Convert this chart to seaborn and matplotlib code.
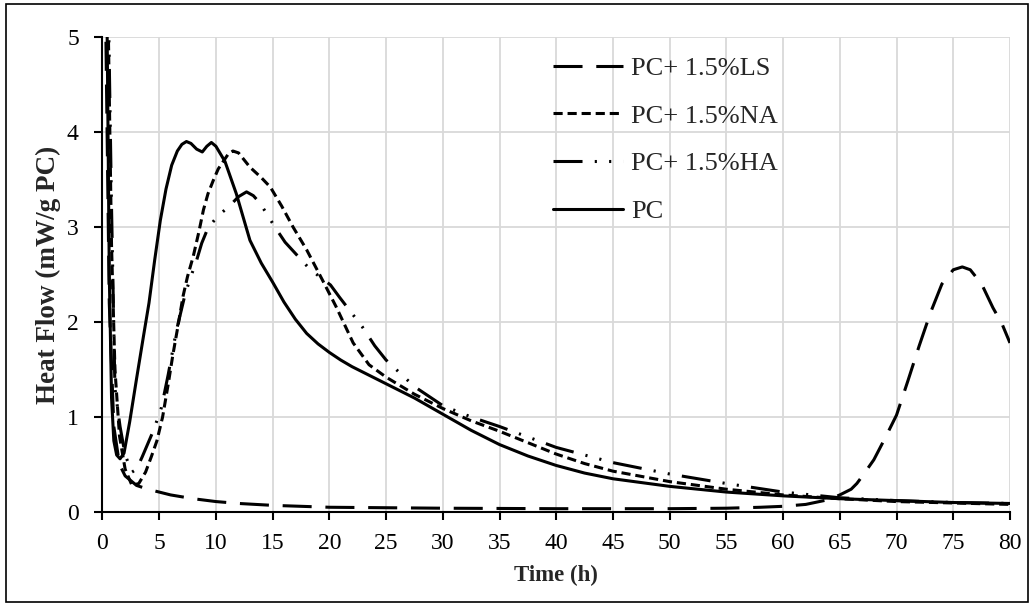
import numpy as np
import pandas as pd
import seaborn as sns
import matplotlib
matplotlib.use("Agg")
import matplotlib.pyplot as plt
from matplotlib.patches import Rectangle

# ---------------- data ----------------
series_names = ["PC+ 1.5%LS", "PC+ 1.5%NA", "PC+ 1.5%HA", "PC"]

t_ls = [0.1, 0.3, 0.6, 1.0, 1.5, 2.0, 3.0, 4.0, 5.0, 6.0, 8.0, 10, 12, 15, 20, 25, 30, 40, 50,
        55, 58, 60, 62, 64, 65, 66, 66.5, 67, 68, 69, 70, 71, 72, 73, 74, 75, 75.8, 76.5, 77.5,
        78.5, 79.3, 80]
v_ls = [8.0, 5.0, 2.2, 0.9, 0.5, 0.38, 0.28, 0.24, 0.21, 0.18, 0.14, 0.11, 0.09, 0.07, 0.05,
        0.045, 0.04, 0.035, 0.035, 0.04, 0.05, 0.06, 0.08, 0.13, 0.18, 0.24, 0.30, 0.38, 0.55,
        0.78, 1.02, 1.38, 1.75, 2.1, 2.4, 2.55, 2.58, 2.55, 2.4, 2.15, 1.98, 1.78]

t_na = [0.1, 0.5, 0.8, 1.1, 1.5, 2.0, 2.6, 3.2, 3.8, 4.3, 4.8, 5.3, 5.8, 6.2, 6.6, 7.1, 7.5, 8.0,
        8.5, 8.9, 9.3, 9.8, 10.2, 10.7, 11.1, 11.5, 12.0, 13.0, 14.0, 14.8, 15.8, 16.8, 18.0, 19.4,
        20.6, 22.1, 23.5, 25, 27.5, 30, 32.5, 35, 37.5, 40, 42.5, 45, 50, 55, 60, 65, 70, 75, 80]
v_na = [8.0, 5.2, 2.8, 1.5, 0.8, 0.45, 0.28, 0.3, 0.42, 0.58, 0.75, 1.0, 1.35, 1.65, 1.92, 2.27,
        2.48, 2.69, 2.95, 3.18, 3.35, 3.5, 3.61, 3.7, 3.77, 3.8, 3.78, 3.63, 3.52, 3.42, 3.22, 3.0,
        2.76, 2.44, 2.16, 1.78, 1.55, 1.42, 1.24, 1.09, 0.96, 0.85, 0.73, 0.61, 0.51, 0.43, 0.32,
        0.24, 0.18, 0.14, 0.11, 0.095, 0.08]

t_ha = [0.1, 0.5, 0.8, 1.1, 1.55, 2.0, 2.6, 3.0, 3.5, 4.5, 5.2, 5.8, 6.5, 7.3, 7.8, 8.3, 8.75,
        9.3, 10.2, 11.1, 12.0, 12.7, 13.3, 13.9, 15.2, 16.1, 17.1, 18.1, 19.1, 20.1, 20.9, 22.9,
        24, 25, 27.5, 30, 32.5, 35, 37.5, 40, 42.5, 45, 50, 55, 60, 65, 70, 75, 80]
v_ha = [8.0, 5.5, 3.2, 1.3, 0.9, 0.6, 0.42, 0.45, 0.58, 0.86, 1.1, 1.45, 1.9, 2.3, 2.48, 2.65,
        2.83, 2.99, 3.12, 3.21, 3.32, 3.37, 3.33, 3.25, 3.0, 2.84, 2.71, 2.58, 2.48, 2.39, 2.26,
        1.95, 1.75, 1.6, 1.32, 1.12, 1.0, 0.9, 0.79, 0.68, 0.6, 0.52, 0.4, 0.3, 0.21, 0.15, 0.12,
        0.1, 0.09]

t_pc = [0.1, 0.4, 0.6, 0.8, 1.0, 1.25, 1.55, 1.9, 2.4, 3.0, 3.6, 4.1, 4.6, 5.1, 5.6, 6.1, 6.6,
        7.0, 7.4, 7.8, 8.3, 8.8, 9.2, 9.6, 10.0, 10.8, 11.8, 13.0, 14.0, 15.0, 16.0, 17.0, 18.0,
        19.0, 20.0, 21.0, 22.0, 23.0, 25.0, 27.5, 30.0, 32.5, 35.0, 37.5, 40.0, 42.5, 45.0, 50.0,
        55.0, 60.0, 65.0, 70.0, 75.0, 80.0]
v_pc = [8.0, 5.2, 2.5, 1.2, 0.75, 0.6, 0.56, 0.62, 0.95, 1.4, 1.84, 2.2, 2.65, 3.07, 3.4, 3.65,
        3.8, 3.87, 3.9, 3.88, 3.82, 3.79, 3.85, 3.89, 3.85, 3.69, 3.35, 2.86, 2.62, 2.42, 2.21,
        2.03, 1.88, 1.77, 1.68, 1.6, 1.53, 1.47, 1.35, 1.2, 1.03, 0.86, 0.71, 0.59, 0.49, 0.41,
        0.35, 0.27, 0.21, 0.17, 0.14, 0.12, 0.1, 0.09]

x_ticks = list(range(0, 81, 5))
y_ticks = [0, 1, 2, 3, 4, 5]

frames = []
for name, t, v in zip(series_names, [t_ls, t_na, t_ha, t_pc], [v_ls, v_na, v_ha, v_pc]):
    frames.append(pd.DataFrame({"Time": t, "Heat": v, "Series": name}))
df = pd.concat(frames, ignore_index=True)

# ---------------- style ----------------
sns.set_theme(style="white")
plt.rcParams["font.family"] = ["Liberation Serif", "DejaVu Serif"]

fig = plt.figure(figsize=(10.33, 6.04), dpi=100)
ax = fig.add_axes([0.0992, 0.1523, 0.8785, 0.7864])

dash_map = {
    "PC+ 1.5%LS": (9.5, 4.5),
    "PC+ 1.5%NA": (3.0, 1.6),
    "PC+ 1.5%HA": (9.5, 4.0, 0.7, 4.0, 0.7, 4.0),
    "PC": "",
}
palette = {n: "black" for n in series_names}

sns.lineplot(data=df, x="Time", y="Heat", hue="Series", style="Series",
             hue_order=series_names, style_order=series_names,
             palette=palette, dashes=dash_map, sort=False, estimator=None,
             linewidth=2.2, legend=False, ax=ax)

ax.set_xlim(0, 80)
ax.set_ylim(0, 5)
ax.set_xticks(x_ticks)
ax.set_yticks(y_ticks)
ax.set_xticklabels([str(x) for x in x_ticks])
ax.set_yticklabels([str(y) for y in y_ticks])

ax.grid(True, color="#d9d9d9", linewidth=1.3)
ax.set_axisbelow(True)
for s in ["top", "right"]:
    ax.spines[s].set_visible(False)
for s in ["left", "bottom"]:
    ax.spines[s].set_color("black")
    ax.spines[s].set_linewidth(1.5)

ax.tick_params(axis="both", which="major", direction="out", length=6, width=1.5,
               color="black", labelsize=17, labelcolor="black",
               bottom=True, left=True)
ax.tick_params(axis="x", pad=9)
ax.tick_params(axis="y", pad=11)

ax.set_xlabel("Time (h)", fontsize=16.5, fontweight="bold", labelpad=8)
ax.set_ylabel("Heat Flow (mW/g PC)", fontsize=19.5, fontweight="bold", labelpad=4)

handles = ax.get_lines()[:4]
leg = ax.legend(handles=handles, labels=series_names, loc="upper left",
                bbox_to_anchor=(0.496, 0.959), frameon=False, fontsize=19,
                handlelength=2.65, handletextpad=0.34, labelspacing=0.92,
                borderaxespad=0, borderpad=0)

# outer chart border
fig.patches.append(Rectangle((0.0058, 0.004), 0.9894, 0.989, transform=fig.transFigure,
                             fill=False, edgecolor="black", linewidth=1.2))

fig.savefig("out.png", dpi=100)
